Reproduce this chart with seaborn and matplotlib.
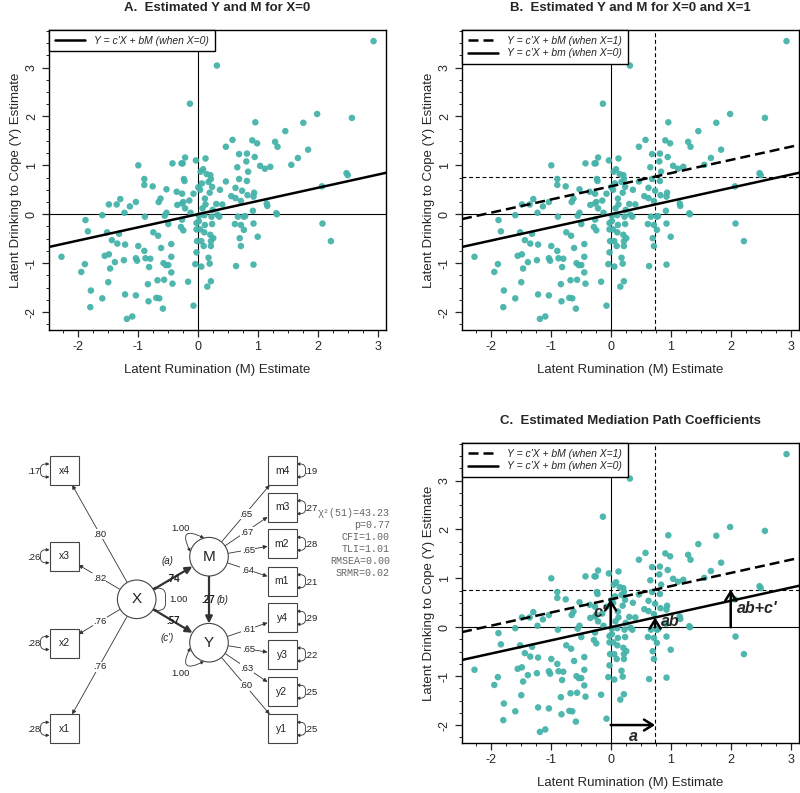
import numpy as np
import pandas as pd
import matplotlib
matplotlib.use("Agg")
import matplotlib.pyplot as plt
import seaborn as sns
from matplotlib.ticker import MultipleLocator
from matplotlib.lines import Line2D
from matplotlib.patches import Circle, Rectangle, FancyArrowPatch

# ---------------- data ----------------
m_scores = [
    2.93, 0.32, -0.13, 1.99, 2.57, 0.96, 1.76, 1.46, 0.58, 0.91,
    1.29, 0.99, 0.47, 1.33, 1.84, 0.95, 1.67, 0.69, 0.82, 0.13,
    -0.21, -0.03, 0.81, 1.56, 1.04, 1.21, 1.12, -0.99, -0.42, -0.25,
    -0.27, 0.66, 0.09, 0.84, 0.05, 0.15, 0.21, 0.22, 0.18, 0.69,
    0.82, 2.48, 2.50, -0.23, -0.22, -0.89, -0.89, -0.75, 0.47, 0.07,
    0.01, 0.24, 0.63, 0.04, -0.52, 2.07, 0.37, 0.74, 0.20, 0.94,
    -0.35, -0.26, -0.07, 0.83, 0.56, 0.63, -0.62, -1.29, 0.12, 0.93,
    0.72, -1.03, -0.65, -0.24, -0.14, -1.48, -1.35, -0.34, -0.26, 0.13,
    0.31, 0.41, 1.15, 1.16, -1.13, -0.21, 0.08, -1.22, -0.52, -0.12,
    0.25, 0.92, 1.31, 1.32, -1.59, -0.88, -0.55, 0.02, 0.11, 0.33,
    0.36, 0.23, 0.67, 0.77, 0.79, -1.87, -0.26, 0.02, -1.83, -1.51,
    -1.31, -0.49, -0.28, -0.24, -0.02, 0.12, 0.24, 0.62, 0.72, 0.93,
    2.08, -0.74, -0.66, -0.02, 0.04, 0.11, 0.21, 0.26, 0.77, 1.00,
    2.22, -1.43, -1.34, -1.21, -0.01, 0.06, 0.22, 0.70, -0.44, -0.99,
    0.10, 0.22, 0.72, -0.61, -0.89, -0.02, -1.55, -1.48, -2.27, -1.03,
    -0.87, -0.79, -0.44, 0.18, -1.01, -1.23, -1.38, -1.88, -0.57, -0.04,
    -0.53, -0.49, 0.20, 0.06, 0.64, 0.93, -1.46, -0.81, -0.44, -1.94,
    -1.49, -0.67, -0.56, -0.16, 0.22, -0.83, -0.42, 0.16, -1.78, -1.21,
    -1.03, -0.69, -0.64, -1.59, -0.82, -1.79, -0.07, -0.58, -1.09, -1.18,
]
y_scores = [
    3.54, 3.04, 2.26, 2.05, 1.97, 1.88, 1.87, 1.70, 1.52, 1.51,
    1.48, 1.45, 1.38, 1.38, 1.32, 1.17, 1.15, 1.23, 1.24, 1.14,
    1.16, 1.10, 1.08, 1.01, 0.99, 0.97, 0.93, 1.00, 1.04, 1.04,
    1.04, 0.96, 0.92, 0.87, 0.87, 0.82, 0.80, 0.72, 0.66, 0.72,
    0.68, 0.84, 0.80, 0.72, 0.68, 0.72, 0.60, 0.57, 0.67, 0.63,
    0.55, 0.56, 0.54, 0.50, 0.51, 0.57, 0.50, 0.48, 0.44, 0.44,
    0.46, 0.42, 0.42, 0.39, 0.37, 0.33, 0.32, 0.31, 0.32, 0.36,
    0.27, 0.25, 0.25, 0.25, 0.28, 0.20, 0.20, 0.19, 0.22, 0.20,
    0.21, 0.20, 0.22, 0.17, 0.16, 0.12, 0.12, 0.03, 0.03, 0.03,
    0.09, 0.07, 0.02, 0.00, -0.02, -0.05, -0.03, -0.03, -0.02, -0.01,
    -0.05, -0.05, -0.05, -0.05, -0.04, -0.12, -0.11, -0.14, -0.35, -0.37,
    -0.40, -0.20, -0.26, -0.33, -0.18, -0.22, -0.20, -0.20, -0.22, -0.19,
    -0.19, -0.37, -0.44, -0.31, -0.31, -0.37, -0.42, -0.49, -0.32, -0.46,
    -0.55, -0.53, -0.60, -0.62, -0.55, -0.55, -0.55, -0.49, -0.61, -0.65,
    -0.65, -0.65, -0.65, -0.69, -0.75, -0.78, -0.85, -0.82, -0.87, -0.90,
    -0.90, -0.91, -0.87, -0.89, -0.95, -0.94, -0.98, -1.02, -1.00, -1.02,
    -1.04, -1.04, -1.01, -1.07, -1.06, -1.03, -1.11, -1.08, -1.19, -1.18,
    -1.39, -1.35, -1.34, -1.38, -1.37, -1.43, -1.42, -1.48, -1.56, -1.64,
    -1.66, -1.71, -1.72, -1.72, -1.78, -1.90, -1.87, -1.93, -2.09, -2.14,
]

path_a = 0.74        # X -> M
path_b = 0.27        # M -> Y
path_c_prime = 0.57  # X -> Y (direct)

panel_titles = [
    "A.  Estimated Y and M for X=0",
    "B.  Estimated Y and M for X=0 and X=1",
    "C.  Estimated Mediation Path Coefficients",
]
x_label = "Latent Rumination (M) Estimate"
y_label = "Latent Drinking to Cope (Y) Estimate"
legend_x0 = "Y = c'X + bM (when X=0)"
legend_x1 = "Y = c'X + bM (when X=1)"
legend_x0_b = "Y = c'X + bm (when X=0)"
arrow_labels = ["c'", "ab", "ab+c'", "a"]

x_items = ["x4", "x3", "x2", "x1"]
x_loadings = [0.80, 0.82, 0.76, 0.76]
x_resid = [0.17, 0.26, 0.28, 0.28]
m_items = ["m4", "m3", "m2", "m1"]
m_loadings = [0.65, 0.67, 0.65, 0.64]
m_resid = [0.19, 0.27, 0.28, 0.21]
y_items = ["y4", "y3", "y2", "y1"]
y_loadings = [0.61, 0.65, 0.63, 0.60]
y_resid = [0.29, 0.22, 0.25, 0.25]
latent_variance = 1.00
fit_stats = ["χ²(51)=43.23", "p=0.77", "CFI=1.00", "TLI=1.01", "RMSEA=0.00", "SRMR=0.02"]

# ---------------- style ----------------
sns.set_style("ticks")
plt.rcParams["font.family"] = ["Liberation Sans", "DejaVu Sans"]
plt.rcParams["axes.unicode_minus"] = False
PT_COLOR = "#45B3AA"

fig = plt.figure(figsize=(8, 7.93), dpi=100)
W, H = 800.0, 793.0


def add_ax(left, top, right, bottom):
    return fig.add_axes([left / W, 1 - bottom / H, (right - left) / W, (bottom - top) / H])


ax_a = add_ax(49, 30, 386, 330)
ax_b = add_ax(462, 30, 799, 330)
ax_c = add_ax(462, 443, 799, 743)

df = pd.DataFrame({"M": m_scores, "Y": y_scores})
xr = df["M"].max() - df["M"].min()
yr = df["Y"].max() - df["Y"].min()
xlim = (df["M"].min() - 0.04 * xr, df["M"].max() + 0.04 * xr)
ylim = (df["Y"].min() - 0.04 * yr, df["Y"].max() + 0.04 * yr)

DASH_BIG = (0, (4, 2))
DASH_SMALL = (0, (3.5, 2.5))


def base_panel(ax, title):
    sns.scatterplot(data=df, x="M", y="Y", ax=ax, color=PT_COLOR, s=22,
                    edgecolor="none", linewidth=0, alpha=0.95, zorder=3, legend=False)
    ax.set_xlim(*xlim)
    ax.set_ylim(*ylim)
    ax.axhline(0, color="black", lw=0.8, zorder=2)
    ax.axvline(0, color="black", lw=0.8, zorder=2)
    ax.axline((0, 0), slope=path_b, color="black", lw=1.8, zorder=4)
    ax.xaxis.set_major_locator(MultipleLocator(1))
    ax.yaxis.set_major_locator(MultipleLocator(1))
    ax.xaxis.set_minor_locator(MultipleLocator(0.25))
    ax.yaxis.set_minor_locator(MultipleLocator(0.25))
    ax.tick_params(which="major", length=5, width=0.9, direction="out", labelsize=9, pad=3)
    ax.tick_params(which="minor", length=2.5, width=0.7, direction="out")
    ax.tick_params(axis="y", labelrotation=90)
    for lbl in ax.get_yticklabels():
        lbl.set_va("center")
    for s in ax.spines.values():
        s.set_linewidth(1.0)
        s.set_color("black")
    ax.set_title(title, fontsize=9.5, fontweight="bold", pad=14)
    ax.set_xlabel(x_label, fontsize=9.5, labelpad=8)
    ax.set_ylabel(y_label, fontsize=9.5, labelpad=3)


def add_legend(ax, handles, labels):
    leg = ax.legend(handles, labels, loc="upper left", bbox_to_anchor=(0, 1),
                    borderaxespad=0, frameon=True, fancybox=False, framealpha=1,
                    edgecolor="black", prop={"style": "italic", "size": 7.5},
                    handlelength=2.9, handletextpad=0.9, borderpad=0.55,
                    labelspacing=0.25)
    leg.get_frame().set_linewidth(1.0)
    leg.set_zorder(10)


solid_h = Line2D([], [], color="black", lw=1.8)
dash_h = Line2D([], [], color="black", lw=1.8, ls=DASH_BIG)

# Panel A
base_panel(ax_a, panel_titles[0])
add_legend(ax_a, [solid_h], [legend_x0])

# Panels B and C
y_at_a = path_c_prime + path_a * path_b
for ax, title in [(ax_b, panel_titles[1]), (ax_c, panel_titles[2])]:
    base_panel(ax, title)
    ax.axline((0, path_c_prime), slope=path_b, color="black", lw=1.8, ls=DASH_BIG, zorder=4)
    ax.axvline(path_a, color="black", lw=0.8, ls=DASH_SMALL, zorder=2)
    ax.axhline(y_at_a, color="black", lw=0.8, ls=DASH_SMALL, zorder=2)
    add_legend(ax, [dash_h, solid_h], [legend_x1, legend_x0_b])

# Panel C arrows
arr = dict(arrowstyle="->,head_length=0.45,head_width=0.28", lw=1.8, color="black",
           shrinkA=0, shrinkB=0, mutation_scale=14)
ax_c.annotate("", xy=(0, path_c_prime), xytext=(0, 0), arrowprops=arr, zorder=6)
ax_c.annotate("", xy=(path_a, path_a * path_b), xytext=(path_a, 0), arrowprops=arr, zorder=6)
ax_c.annotate("", xy=(2, y_at_a), xytext=(2, 0), arrowprops=arr, zorder=6)
ax_c.annotate("", xy=(path_a, -2), xytext=(0, -2), arrowprops=arr, zorder=6)
lab = dict(fontsize=11.5, fontweight="bold", style="italic", zorder=7)
ax_c.text(-0.07, 0.30, arrow_labels[0], ha="right", va="center", **lab)
ax_c.text(path_a + 0.1, 0.12, arrow_labels[1], ha="left", va="center", **lab)
ax_c.text(2.1, 0.38, arrow_labels[2], ha="left", va="center", **lab)
ax_c.text(path_a / 2, -2.24, arrow_labels[3], ha="center", va="center", **lab)

# ---------------- path diagram ----------------
axd = fig.add_axes([0, 0, 400 / W, 393 / H])
axd.set_xlim(0, 400)
axd.set_ylim(393, 0)
axd.axis("off")

EDGE = "#444444"
TXT = "#222222"
HB = 14.5  # half box size


def fmt(v):
    return f"{v:.2f}".lstrip("0")


def box_edge(cx, cy, tx, ty):
    dx, dy = tx - cx, ty - cy
    t = min(HB / abs(dx) if dx else 1e9, HB / abs(dy) if dy else 1e9)
    return cx + dx * t, cy + dy * t


def circ_edge(cx, cy, r, tx, ty):
    dx, dy = tx - cx, ty - cy
    d = np.hypot(dx, dy)
    return cx + dx / d * r, cy + dy / d * r


def circ_pt(cx, cy, r, ang):
    t = np.deg2rad(ang)
    return cx + r * np.cos(t), cy - r * np.sin(t)


def arrow(p0, p1, lw=0.6, ms=6, style="-|>"):
    axd.add_patch(FancyArrowPatch(p0, p1, arrowstyle=style, mutation_scale=ms, lw=lw,
                                  color="#333333", shrinkA=0, shrinkB=0, zorder=3))


def box_loop(cx, cy, side):
    xe = cx - HB if side == "left" else cx + HB
    ang = 180 if side == "left" else 0
    axd.add_patch(FancyArrowPatch((xe, cy - 6.5), (xe, cy + 6.5),
                                  connectionstyle=f"arc,angleA={ang},angleB={ang},armA=9,armB=9,rad=5",
                                  arrowstyle="<|-|>", mutation_scale=4.5, lw=0.6,
                                  color="#333333", shrinkA=0, shrinkB=0, zorder=3))


lat = {"X": (136.7, 199.3), "M": (209.0, 156.7), "Y": (209.0, 242.7)}
R = 19.3
x_box_y = [70.5, 156.3, 243.0, 328.8]
m_box_y = [70.5, 107.2, 143.8, 181.2]
y_box_y = [217.8, 254.5, 291.7, 328.8]
XB, RB = 64.0, 282.0

x_lab_pos = [(100, 134.3), (99.3, 178.3), (100, 221.7), (100, 266.7)]
m_lab_pos = [(246, 114.3), (246.7, 132.3), (248.3, 150.7), (247.3, 170.3)]
y_lab_pos = [(248.3, 230), (248.3, 249.3), (246.7, 268.3), (245.7, 286)]

for name, (cx, cy) in lat.items():
    axd.add_patch(Circle((cx, cy), R, facecolor="white", edgecolor=EDGE, lw=0.8, zorder=4))
    axd.text(cx, cy, name, ha="center", va="center", fontsize=11, color=TXT, zorder=5)


def indicator_block(items, loads, resid, xs, ys, latent, labpos, side):
    lx, ly = lat[latent]
    for it, ld, rs, by, lp in zip(items, loads, resid, ys, labpos):
        axd.add_patch(Rectangle((xs - HB, by - HB), 2 * HB, 2 * HB, facecolor="white",
                                edgecolor=EDGE, lw=0.8, zorder=4))
        axd.text(xs, by, it, ha="center", va="center", fontsize=7.5, color=TXT, zorder=5)
        p0 = circ_edge(lx, ly, R, xs, by)
        p1 = box_edge(xs, by, lx, ly)
        arrow(p0, p1)
        axd.text(lp[0], lp[1], fmt(ld), ha="center", va="center", fontsize=6.8, color=TXT,
                 zorder=6, bbox=dict(boxstyle="square,pad=0.05", fc="white", ec="none"))
        box_loop(xs, by, side)
        rx = xs - HB - 16 if side == "left" else xs + HB + 14
        axd.text(rx, by + 1, fmt(rs), ha="center", va="center", fontsize=6.8, color=TXT, zorder=6)


indicator_block(x_items, x_loadings, x_resid, XB, x_box_y, "X", x_lab_pos, "left")
indicator_block(m_items, m_loadings, m_resid, RB, m_box_y, "M", m_lab_pos, "right")
indicator_block(y_items, y_loadings, y_resid, RB, y_box_y, "Y", y_lab_pos, "right")

# structural paths
for src, dst in [("X", "M"), ("X", "Y"), ("M", "Y")]:
    (sx, sy), (dx_, dy_) = lat[src], lat[dst]
    arrow(circ_edge(sx, sy, R, dx_, dy_), circ_edge(dx_, dy_, R, sx, sy), lw=1.6, ms=10)

bold_lab = dict(fontsize=7, fontweight="bold", color=TXT, zorder=6, ha="center", va="center")
ital_lab = dict(fontsize=7, style="italic", color=TXT, zorder=6, ha="center", va="center")
axd.text(173.3, 179, fmt(path_a), **bold_lab)
axd.text(167.7, 160.7, "(a)", **ital_lab)
axd.text(172.7, 221, fmt(path_c_prime), **bold_lab)
axd.text(166.7, 238.3, "(c')", **ital_lab)
axd.text(208.5, 200, fmt(path_b), **bold_lab)
axd.text(222.3, 200, "(b)", **ital_lab)


# latent variance loops
def latent_loop(name, a1, a2, rad):
    cx, cy = lat[name]
    axd.add_patch(FancyArrowPatch(circ_pt(cx, cy, R, a1), circ_pt(cx, cy, R, a2),
                                  connectionstyle=f"arc3,rad={rad}", arrowstyle="<|-|>",
                                  mutation_scale=4.5, lw=0.6, color="#333333",
                                  shrinkA=0, shrinkB=0, zorder=3))


latent_loop("M", 105, 165, 1.5)
latent_loop("Y", 195, 255, 1.5)
cxX, cyX = lat["X"]
axd.add_patch(FancyArrowPatch(circ_pt(cxX, cyX, R, 35), circ_pt(cxX, cyX, R, -35),
                              connectionstyle="arc,angleA=0,angleB=0,armA=13,armB=13,rad=7",
                              arrowstyle="<|-|>", mutation_scale=4.5, lw=0.6, color="#333333",
                              shrinkA=0, shrinkB=0, zorder=3))
var_lab = f"{latent_variance:.2f}"
axd.text(180.7, 128.3, var_lab, ha="center", va="center", fontsize=6.8, color=TXT, zorder=6)
axd.text(178.3, 199.3, var_lab, ha="center", va="center", fontsize=6.8, color=TXT, zorder=6)
axd.text(180, 273.3, var_lab, ha="center", va="center", fontsize=6.8, color=TXT, zorder=6)

for i, line in enumerate(fit_stats):
    axd.text(390, 112.7 + 12.1 * i, line, ha="right", va="center",
             family=["Liberation Mono", "DejaVu Sans Mono"], fontsize=7.2, color="#666666",
             zorder=6)

fig.savefig("out.png", dpi=100)
